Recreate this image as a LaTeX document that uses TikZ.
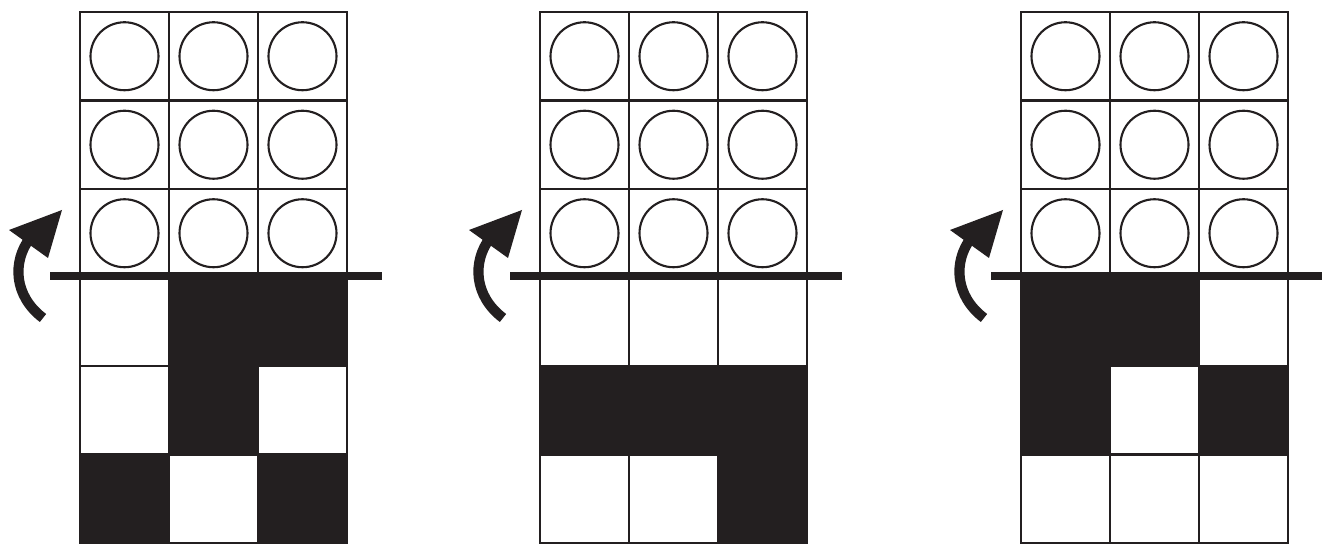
\documentclass[tikz,border=0pt]{standalone}
\usepackage{tikz}
\definecolor{Ink}{HTML}{231F20}
\tikzset{
  cell/.style={draw=Ink,line width=1.3pt},
  hole/.style={draw=Ink,line width=1.2pt},
  dark/.style={fill=Ink,draw=Ink,line width=1.3pt},
  bar/.style={draw=Ink,line width=4.6pt},
  turn/.style={draw=Ink,line width=5.8pt},
  head/.style={fill=Ink}
}

\begin{document}
\begin{tikzpicture}[x=0.2mm,y=-0.2mm]
  \useasboundingbox (0,0) rectangle (1322,544);
  \foreach \px/\blk in {80/{1/3,2/3,1/4,0/5,2/5},540/{0/4,1/4,2/4,2/5},1021/{0/3,1/3,0/4,2/4}}{
    \begin{scope}[shift={(\px,0)}]
      \foreach \r in {0,...,5}
        \foreach \c in {0,1,2}
          \draw[cell] (\c*89,12+\r*88.5) rectangle ++(89,88.5);
      \foreach \r in {0,1,2}
        \foreach \c in {0,1,2}
          \draw[hole] (\c*89+44.5,12+\r*88.5+44.25) circle[radius=34];
      \foreach \c/\r in \blk
        \fill[dark] (\c*89,12+\r*88.5) rectangle ++(89,88.5);
      \draw[bar] (-30,276) -- (302,276);
      \draw[turn] (-37,318) .. controls (-66,296) and (-68,262) .. (-50,238);
      \fill[head] (-18,210) -- (-71,230) -- (-32,258) -- cycle;
    \end{scope}
  }
\end{tikzpicture}
\end{document}
